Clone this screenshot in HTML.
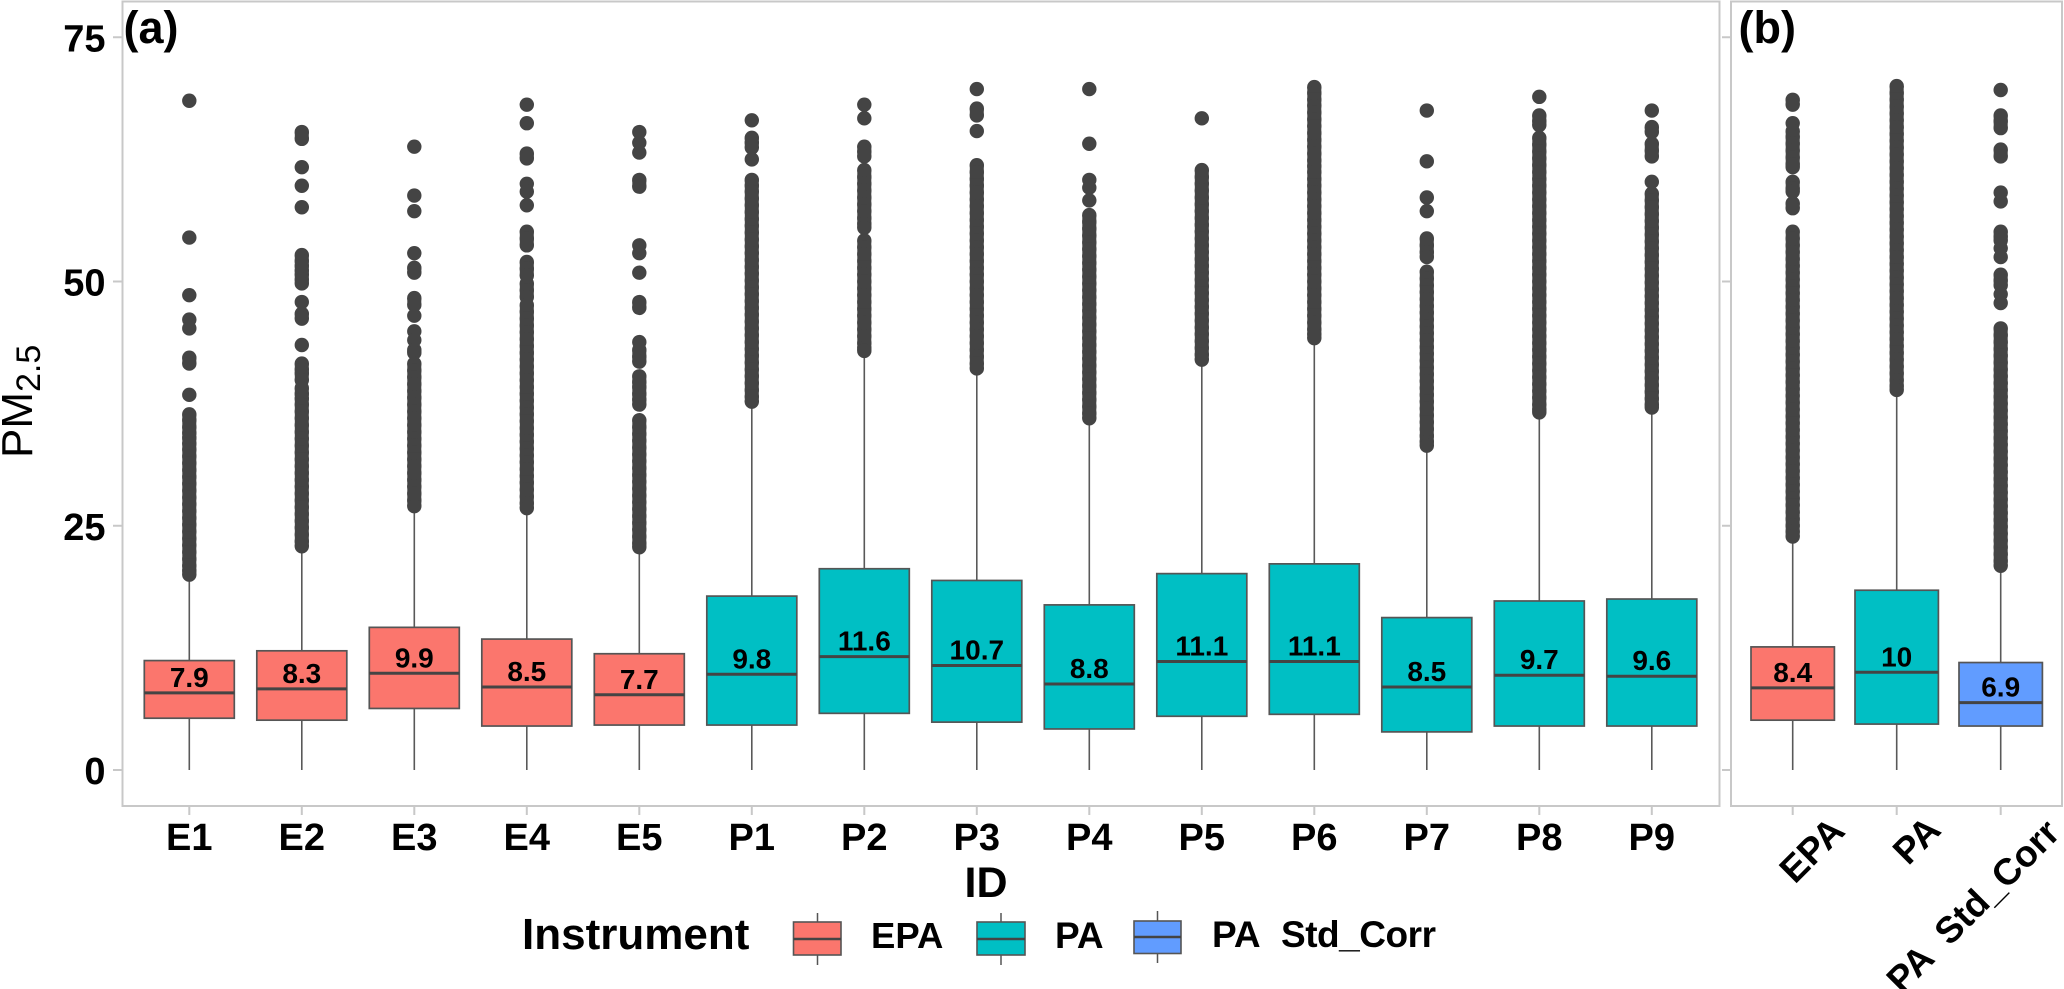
<!DOCTYPE html>
<html lang="en">
<head>
<meta charset="utf-8">
<title>PM2.5 boxplots by ID and Instrument</title>
<style>
html,body{margin:0;padding:0;background:#fff;}
svg{display:block;font-family:"Liberation Sans",sans-serif;}
text{fill:#000;}
</style>
</head>
<body>
<svg id="chart" xmlns="http://www.w3.org/2000/svg" width="2064" height="989" viewBox="0 0 2064 989">
  <rect x="0" y="0" width="2064" height="989" fill="#fff"/>
  <rect x="122.5" y="1.5" width="1597" height="804.5" fill="none" stroke="#c8c8c8" stroke-width="2"/>
  <rect x="1731" y="1.5" width="331" height="804.5" fill="none" stroke="#c8c8c8" stroke-width="2"/>
  <g id="axes"></g>
  <g id="marks"></g>
  <text x="123.5" y="43" font-size="45" font-weight="700">(a)</text>
  <text x="1738.5" y="43" font-size="45" font-weight="700">(b)</text>
  <text transform="translate(32,458) rotate(-90)" font-size="44">PM<tspan font-size="34" dy="8">2.5</tspan></text>
  <text x="986" y="897" font-size="43" font-weight="700" text-anchor="middle">ID</text>
  <g>
    <text x="522" y="949" font-size="44" font-weight="700">Instrument</text>
    <g>
      <line x1="817.5" x2="817.5" y1="913" y2="965" stroke="#555" stroke-width="1.5"/>
      <rect x="793.5" y="922" width="47.5" height="33" fill="#FB766D" stroke="#555" stroke-width="1.6"/>
      <line x1="793.5" x2="841" y1="939" y2="939" stroke="#444" stroke-width="2.6"/>
    </g>
    <text x="871" y="948" font-size="36.5" font-weight="700">EPA</text>
    <g>
      <line x1="1001" x2="1001" y1="913" y2="965" stroke="#555" stroke-width="1.5"/>
      <rect x="977" y="922" width="48" height="33" fill="#00BFC4" stroke="#555" stroke-width="1.6"/>
      <line x1="977" x2="1025" y1="939" y2="939" stroke="#444" stroke-width="2.6"/>
    </g>
    <text x="1055" y="948" font-size="37" font-weight="700">PA</text>
    <g>
      <line x1="1157.5" x2="1157.5" y1="911" y2="963" stroke="#555" stroke-width="1.5"/>
      <rect x="1134" y="921" width="47" height="32.5" fill="#619CFF" stroke="#555" stroke-width="1.6"/>
      <line x1="1134" x2="1181" y1="937" y2="937" stroke="#444" stroke-width="2.6"/>
    </g>
    <text y="947" font-size="37" font-weight="700"><tspan x="1212">PA</tspan><tspan x="1281" textLength="155">Std_Corr</tspan></text>
  </g>
</svg>
<script>
var yTicks = [0, 25, 50, 75];

var idCategories = ['E1','E2','E3','E4','E5','P1','P2','P3','P4','P5','P6','P7','P8','P9'];
var idInstrument = ['EPA','EPA','EPA','EPA','EPA','PA','PA','PA','PA','PA','PA','PA','PA','PA'];
var idQ1 = [5.3,5.1,6.3,4.5,4.6,4.6,5.8,4.9,4.2,5.5,5.7,3.9,4.5,4.5];
var idMedian = [7.9,8.3,9.9,8.5,7.7,9.8,11.6,10.7,8.8,11.1,11.1,8.5,9.7,9.6];
var idQ3 = [11.2,12.2,14.6,13.4,11.9,17.8,20.6,19.4,16.9,20.1,21.1,15.6,17.3,17.5];
var idWhiskerLow = [0,0,0,0,0,0,0,0,0,0,0,0,0,0];
var idWhiskerHigh = [20.0,22.9,27.0,26.8,22.8,37.7,42.9,41.1,36.0,42.0,44.2,33.2,36.6,37.1];

var outE1 = [68.5,54.5,48.6,46.1,45.2,42.2,41.6,38.4,36.4,35.8,35.1,34.5,34.0,33.4,32.8,32.1,31.4,30.7,30.0,29.3,28.6,27.9,27.2,26.5,25.8,25.1,24.4,23.7,23.0,22.3,21.6,20.9,20.4,20.0];
var outE2 = [65.3,64.6,61.7,59.8,57.6,52.7,52.1,51.6,51.1,50.7,50.2,49.8,47.9,46.7,46.2,43.5,41.6,41.0,40.6,39.9,39.1,38.5,38.0,37.4,36.7,36.0,35.3,34.6,33.9,33.2,32.5,31.8,31.1,30.4,29.7,29.0,28.3,27.6,26.9,26.2,25.5,24.8,24.1,23.4,22.9];
var outE3 = [63.8,58.8,57.2,52.9,51.4,50.9,48.3,47.6,46.5,44.9,44.0,43.0,42.7,41.6,40.9,40.2,39.5,38.8,38.1,37.4,36.7,36.0,35.3,34.6,33.9,33.2,32.5,31.8,31.1,30.4,29.7,29.0,28.3,27.6,27.0];
var outE4 = [68.1,66.2,63.1,62.6,60.0,59.2,57.8,55.1,54.4,53.7,52.0,51.3,50.6,49.8,49.1,48.4,47.6,46.9,46.2,45.5,44.8,44.1,43.4,42.7,42.0,41.3,40.6,39.9,39.2,38.5,37.8,37.1,36.4,35.7,35.0,34.3,33.6,32.9,32.2,31.5,30.8,30.1,29.4,28.7,28.0,27.3,26.8];
var outE5 = [65.3,64.2,63.2,60.4,59.7,53.7,52.9,50.9,47.9,47.3,43.8,43.0,42.3,41.8,40.3,39.7,39.2,38.5,37.9,37.4,35.8,35.1,34.4,33.7,33.0,32.3,31.6,30.9,30.2,29.5,28.8,28.1,27.4,26.7,26.0,25.3,24.6,23.9,23.2,22.8];
var outP1 = [66.5,64.7,64.2,63.7,62.5,60.4,59.8,59.2,58.5,57.8,57.1,56.4,55.7,55.0,54.3,53.6,52.9,52.2,51.5,50.8,50.1,49.4,48.7,48.0,47.3,46.6,45.9,45.2,44.5,43.8,43.1,42.4,41.7,41.0,40.3,39.6,38.9,38.2,37.7];
var outP2 = [68.1,66.7,63.8,63.3,62.8,61.4,60.7,60.0,59.3,58.6,57.9,57.2,56.5,55.9,55.5,54.2,53.5,52.8,52.1,51.4,50.7,50.0,49.3,48.6,47.9,47.2,46.5,45.8,45.1,44.4,43.7,43.2,42.9];
var outP3 = [69.7,67.7,67.0,65.4,61.9,61.2,60.5,59.8,59.1,58.4,57.7,57.0,56.3,55.6,54.9,54.2,53.5,52.8,52.1,51.4,50.7,50.0,49.3,48.6,47.9,47.2,46.5,45.8,45.1,44.4,43.7,43.0,42.3,41.6,41.1];
var outP4 = [69.7,64.1,60.4,59.6,58.3,56.8,56.1,55.4,54.7,54.0,53.3,52.6,51.9,51.2,50.5,49.8,49.1,48.4,47.7,47.0,46.3,45.6,44.9,44.2,43.5,42.8,42.1,41.4,40.7,40.0,39.3,38.6,37.9,37.2,36.5,36.0];
var outP5 = [66.7,61.4,60.7,60.0,59.3,58.6,57.9,57.2,56.5,55.8,55.1,54.4,53.7,53.0,52.3,51.6,50.9,50.2,49.5,48.8,48.1,47.4,46.7,46.0,45.3,44.6,43.9,43.2,42.5,42.0];
var outP6 = [69.9,69.3,68.6,68.0,67.3,66.6,65.9,65.2,64.5,63.8,63.1,62.4,61.8,61.2,60.5,59.8,59.1,58.4,57.7,57.0,56.3,55.6,54.9,54.2,53.5,52.8,52.1,51.4,50.7,50.0,49.3,48.6,47.9,47.2,46.5,45.8,45.1,44.6,44.2];
var outP7 = [67.5,62.3,58.6,57.2,54.4,53.7,53.0,52.5,51.0,50.3,49.6,48.9,48.2,47.5,46.8,46.1,45.4,44.7,44.0,43.3,42.6,41.9,41.2,40.5,39.8,39.1,38.4,37.7,37.0,36.3,35.6,34.9,34.2,33.6,33.2];
var outP8 = [68.9,67.0,66.4,66.0,64.7,64.0,63.3,62.6,61.9,61.2,60.5,59.8,59.1,58.4,57.7,57.0,56.3,55.6,54.9,54.2,53.5,52.8,52.1,51.4,50.7,50.0,49.3,48.6,47.9,47.2,46.5,45.8,45.1,44.4,43.7,43.0,42.3,41.6,40.9,40.2,39.5,38.8,38.1,37.4,36.9,36.6];
var outP9 = [67.5,65.8,65.3,64.1,63.4,62.8,60.2,59.0,58.3,57.6,56.9,56.2,55.5,54.8,54.1,53.4,52.7,52.0,51.3,50.6,49.9,49.2,48.5,47.8,47.1,46.4,45.7,45.0,44.3,43.6,42.9,42.2,41.5,40.8,40.1,39.4,38.7,38.0,37.4,37.1];
var idOutliers = [outE1,outE2,outE3,outE4,outE5,outP1,outP2,outP3,outP4,outP5,outP6,outP7,outP8,outP9];

var instCategories = ['EPA','PA','PA Std_Corr'];
var instInstrument = ['EPA','PA','PA_Std_Corr'];
var instQ1 = [5.1,4.7,4.5];
var instMedian = [8.4,10,6.9];
var instQ3 = [12.6,18.4,11.0];
var instWhiskerLow = [0,0,0];
var instWhiskerHigh = [23.9,38.9,20.9];

var outEPA = [68.6,68.1,66.2,65.4,64.8,64.1,63.4,62.7,62.0,61.7,60.2,59.5,59.2,58.0,57.5,55.1,54.4,53.7,53.0,52.3,51.6,50.9,50.2,49.5,48.8,48.1,47.4,46.7,46.0,45.3,44.6,43.9,43.2,42.5,41.8,41.1,40.4,39.7,39.0,38.3,37.6,36.9,36.2,35.5,34.8,34.1,33.4,32.7,32.0,31.3,30.6,29.9,29.2,28.5,27.8,27.1,26.4,25.7,25.0,24.4,23.9];
var outPA = [70.0,69.3,68.6,67.9,67.2,66.5,65.8,65.1,64.4,63.7,63.0,62.3,61.6,60.9,60.2,59.5,58.8,58.1,57.4,56.7,56.0,55.3,54.6,53.9,53.2,52.5,51.8,51.1,50.4,49.7,49.0,48.3,47.6,46.9,46.2,45.5,44.8,44.1,43.4,42.7,42.0,41.3,40.6,39.9,39.3,38.9];
var outStd = [69.6,67.0,66.4,65.7,63.5,62.8,59.1,58.2,55.1,54.6,54.2,53.4,52.5,50.7,50.1,49.6,48.7,47.8,45.2,44.5,43.8,43.1,42.4,41.7,41.0,40.3,39.6,38.9,38.2,37.5,36.8,36.1,35.4,34.7,34.0,33.3,32.6,31.9,31.2,30.5,29.8,29.1,28.4,27.7,27.0,26.3,25.6,24.9,24.2,23.5,22.8,22.1,21.4,20.9];
var instOutliers = [outEPA,outPA,outStd];

var instrumentFill = {EPA:'#FB766D', PA:'#00BFC4', PA_Std_Corr:'#619CFF'};

var NS = 'http://www.w3.org/2000/svg';
var axesLayer = document.getElementById('axes');
var marksLayer = document.getElementById('marks');

function yScale(v){ return 770 - 9.77 * v; }
function xScaleId(i){ return 189.3 + 112.5 * i; }
function xScaleInst(i){ return 1792.7 + 104 * i; }

function make(tag, parent, attrs){
  var el = document.createElementNS(NS, tag);
  for (var k in attrs) el.setAttribute(k, attrs[k]);
  parent.appendChild(el);
  return el;
}

function drawBoxes(cats, inst, q1, med, q3, lo, hi, outs, xScale, halfWidth){
  cats.forEach(function(cat, i){
    var x = xScale(i);
    var slug = cat.toLowerCase().replace(/[^a-z0-9]+/g, '-');
    var g = make('g', marksLayer, {});
    
    

    var whisker = make('line', g, {x1:x, x2:x, y1:yScale(lo[i]), y2:yScale(hi[i]), stroke:'#595959', 'stroke-width':1.6});
    
    

    var box = make('rect', g, {x:x - halfWidth, y:yScale(q3[i]), width:2 * halfWidth, height:yScale(q1[i]) - yScale(q3[i]), fill:instrumentFill[inst[i]], stroke:'#555', 'stroke-width':1.7});
    
    

    var median = make('line', g, {x1:x - halfWidth, x2:x + halfWidth, y1:yScale(med[i]), y2:yScale(med[i]), stroke:'#444', 'stroke-width':3});
    
    

    var label = make('text', g, {x:x, y:yScale(med[i]) - 6, 'font-size':28, 'font-weight':700, 'text-anchor':'middle'});
    label.textContent = String(med[i]);
    
    

    var pts = outs[i];
    pts.forEach(function(v, j){
      var dot = make('circle', g, {cx:x, cy:yScale(v), r:7.2, fill:'#444'});
      
      

      if (j > 0 && pts[j - 1] - v <= 0.72) {
        var run = make('line', g, {x1:x, x2:x, y1:yScale(pts[j - 1]), y2:yScale(v), stroke:'#444', 'stroke-width':14});
        
        
      }
    });
  });
}

yTicks.forEach(function(t){
  var tick = make('line', axesLayer, {x1:113, x2:122, y1:yScale(t), y2:yScale(t), stroke:'#c8c8c8', 'stroke-width':2});
  
  

  var tickB = make('line', axesLayer, {x1:1722, x2:1731, y1:yScale(t), y2:yScale(t), stroke:'#c8c8c8', 'stroke-width':2});
  
  

  var label = make('text', axesLayer, {x:105.5, y:yScale(t) + 14, 'font-size':38, 'font-weight':700, 'text-anchor':'end'});
  label.textContent = String(t);
  
  
});

idCategories.forEach(function(cat, i){
  var tick = make('line', axesLayer, {x1:xScaleId(i), x2:xScaleId(i), y1:806, y2:815, stroke:'#c8c8c8', 'stroke-width':2});
  
  

  var label = make('text', axesLayer, {x:xScaleId(i), y:850, 'font-size':38, 'font-weight':700, 'text-anchor':'middle'});
  label.textContent = cat;
  
  
});

var instLabelOffsetX = [54, 46, 61];
var instLabelBaseY = [833, 832, 835];
instCategories.forEach(function(cat, i){
  var tick = make('line', axesLayer, {x1:xScaleInst(i), x2:xScaleInst(i), y1:806, y2:815, stroke:'#c8c8c8', 'stroke-width':2});
  
  

  var ax = xScaleInst(i) + instLabelOffsetX[i];
  var ay = instLabelBaseY[i];
  var label = make('text', axesLayer, {transform:'translate(' + ax + ',' + ay + ') rotate(-45)', 'font-size':37, 'font-weight':700, 'text-anchor':'end', style:'word-spacing:10px'});
  label.textContent = cat;
  
  
});

drawBoxes(idCategories, idInstrument, idQ1, idMedian, idQ3, idWhiskerLow, idWhiskerHigh, idOutliers, xScaleId, 45);
drawBoxes(instCategories, instInstrument, instQ1, instMedian, instQ3, instWhiskerLow, instWhiskerHigh, instOutliers, xScaleInst, 41.7);
</script>
</body>
</html>
